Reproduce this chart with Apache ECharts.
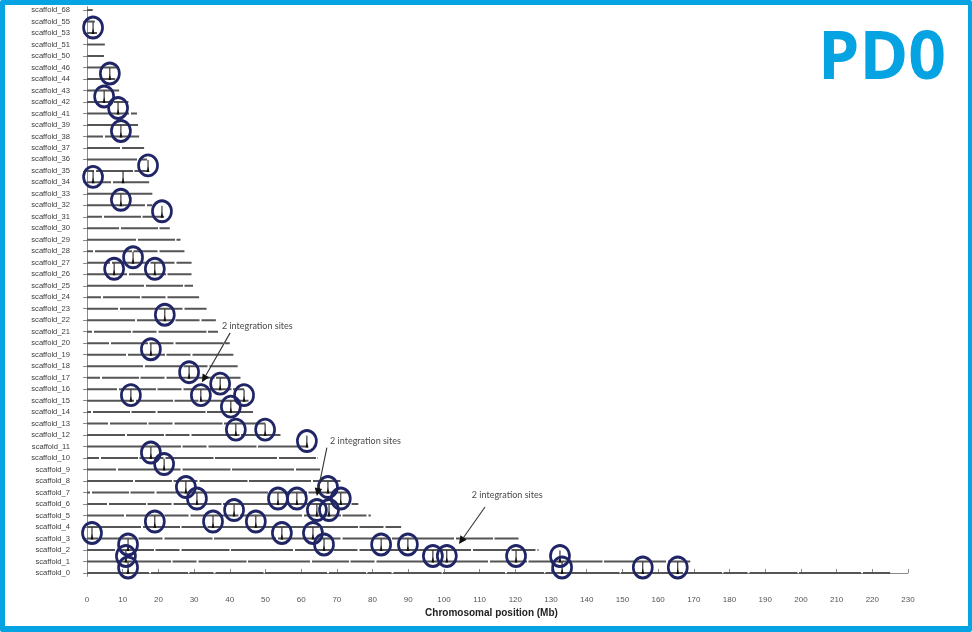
<!DOCTYPE html>
<html>
<head>
<meta charset="utf-8">
<script src="https://cdn.jsdelivr.net/npm/echarts@6/dist/echarts.min.js"></script>
<style>
  html, body { margin: 0; padding: 0; background: #ffffff; }
  #wrap { position: relative; width: 972px; height: 632px; }
  #chart { position: absolute; left: 0; top: 0; width: 972px; height: 632px; }
  #frame {
    position: absolute; left: 0; top: 0; width: 972px; height: 632px;
    box-sizing: border-box; border-style: solid; border-color: #05a3e2;
    border-width: 5px 4px 6px 5px; border-radius: 2px; pointer-events: none;
  }
</style>
</head>
<body>
<div id="wrap">
  <div id="chart"></div>
  <div id="frame"></div>
</div>
<script>
// Scaffolds listed from the bottom row upward
const scaffoldIds = [0, 1, 2, 3, 4, 5, 6, 7, 8, 9, 10, 11, 12, 13, 14, 15, 16, 17, 18, 19,
  20, 21, 22, 23, 24, 25, 26, 27, 28, 29, 30, 31, 32, 33, 34, 35, 36, 37, 38, 39,
  41, 42, 43, 44, 46, 50, 51, 53, 55, 68];
const scaffoldLabels = scaffoldIds.map(n => 'scaffold_' + n);

// Scaffold lengths (Mb)
const scaffoldLengthMb = [225, 169, 126.5, 121, 88, 79.5, 76, 73.5, 71, 65.3,
  64.7, 62, 54.2, 50, 46.5, 45.5, 44, 43, 42.2, 41,
  40, 36.7, 36.1, 33.5, 31.4, 29.7, 29.3, 29.3, 27.3, 26.2,
  23.2, 21.6, 18.3, 18.3, 17.4, 17, 16.8, 16, 14.6, 14.3,
  14, 11.6, 9, 7.9, 8.3, 5.2, 5, 2.8, 2.2, 1.6];

// Circled integration peaks: scaffold id and position (Mb)
const siteScaffold = [53, 44, 42, 41, 38, 35, 34, 32, 31, 27,
  26, 26, 22, 19, 17, 16, 15, 15, 15, 14,
  12, 12, 11, 10, 9, 7, 7, 6, 6, 6,
  6, 5, 5, 5, 4, 4, 4, 3, 3, 3,
  2, 2, 2, 2, 1, 1, 1, 1, 1, 0,
  0, 0, 0];
const siteMb = [1.7, 6.4, 4.8, 8.7, 9.5, 17.1, 1.7, 9.5, 21.0, 12.9,
  7.6, 19.0, 21.8, 17.9, 28.6, 37.3, 12.3, 31.9, 44.0, 40.3,
  41.7, 49.9, 61.6, 17.9, 21.6, 27.7, 67.5, 53.5, 58.8, 71.1,
  30.8, 64.4, 67.8, 41.2, 47.3, 19.0, 35.3, 1.4, 54.6, 63.3,
  66.4, 11.5, 82.4, 89.9, 96.9, 100.8, 120.2, 132.5, 10.9, 133.1,
  155.7, 165.5, 11.5];

// Peaks without a circle
const plainPeakScaffold = [34];
const plainPeakMb = [10.1];

// Callouts: label, label anchor (Mb, row), arrow tail and arrow head (Mb, row)
const calloutText = ['2 integration sites', '2 integration sites', '2 integration sites'];
const calloutLabelAt = [[37.8, 21.5], [68.1, 11.5], [107.8, 6.8]];
const calloutFrom = [[40.1, 20.9], [67.2, 10.9], [111.5, 5.74]];
const calloutTo = [[32.2, 16.6], [64.4, 6.7], [104.2, 2.52]];

const xMin = 0, xMax = 230, xStep = 10;

const rowOf = id => scaffoldIds.indexOf(id);

const lineData = scaffoldLengthMb.map((len, j) => [len, j]);
const siteData = siteScaffold.map((id, k) => [siteMb[k], rowOf(id)]);
const peakData = siteData.concat(plainPeakScaffold.map((id, k) => [plainPeakMb[k], rowOf(id)]));
const calloutData = calloutText.map((t, k) => [
  calloutFrom[k][0], calloutFrom[k][1], calloutTo[k][0], calloutTo[k][1],
  calloutLabelAt[k][0], calloutLabelAt[k][1]
]);

const rowValues = scaffoldIds.map((_, j) => j);

const chart = echarts.init(document.getElementById('chart'), null, { renderer: 'canvas' });

chart.setOption({
  animation: false,
  backgroundColor: '#ffffff',
  grid: { left: 87, right: 64, top: 6.6, bottom: 55.6, containLabel: false },
  xAxis: {
    type: 'value', min: xMin, max: xMax, interval: xStep,
    offset: 8,
    name: 'Chromosomal position (Mb)',
    nameLocation: 'middle', nameGap: 23,
    nameTextStyle: { fontFamily: 'Liberation Sans', fontWeight: 'bold', fontSize: 10, color: '#222', padding: [0, 12, 0, 0] },
    axisLine: { show: true, lineStyle: { color: '#8a8a8a', width: 1 } },
    axisTick: { show: true, inside: true, length: 4, lineStyle: { color: '#8a8a8a' } },
    axisLabel: { margin: 11, fontFamily: 'Liberation Sans', fontSize: 8, color: '#555' },
    splitLine: { show: false }
  },
  yAxis: {
    type: 'value', min: -0.3, max: 49.3,
    offset: 7,
    axisLine: { show: true, lineStyle: { color: '#8a8a8a', width: 1 } },
    axisTick: { show: true, inside: false, length: 4, customValues: rowValues, lineStyle: { color: '#8a8a8a' } },
    axisLabel: {
      customValues: rowValues, margin: 10,
      fontFamily: 'Liberation Sans', fontSize: 7.6, color: '#3c3c3c',
      formatter: v => scaffoldLabels[Math.round(v)] || ''
    },
    splitLine: { show: false }
  },
  graphic: [{
    type: 'text', x: 946, y: 60, z: 100,
    style: {
      text: 'PD0', align: 'right', verticalAlign: 'middle',
      fontFamily: 'Open Sans', fontWeight: 'bold', fontSize: 66, fill: '#05a3e2'
    }
  }],
  series: [
    {
      // scaffold extent lines, with small assembly gaps
      type: 'custom', name: 'scaffolds', data: lineData,
      encode: { x: 0, y: 1 },
      renderItem: (params, api) => {
        const j = api.value(1);
        const a = api.coord([0, j]);
        const b = api.coord([api.value(0), j]);
        return {
          type: 'line',
          shape: { x1: a[0], y1: a[1], x2: b[0], y2: b[1] },
          style: { stroke: '#555', lineWidth: 2, lineDash: [62, 2, 37, 1.5, 24, 2, 48, 1.5], lineDashOffset: (j * 17) % 60 }
        };
      },
      z: 1
    },
    {
      // read-depth peaks at integration sites
      type: 'custom', name: 'peaks', data: peakData,
      encode: { x: 0, y: 1 },
      renderItem: (params, api) => {
        const p = api.coord([api.value(0), api.value(1)]);
        return {
          type: 'group',
          children: [
            { type: 'polygon', shape: { points: [[p[0] - 1.4, p[1] + 1], [p[0] + 1.4, p[1] + 1], [p[0], p[1] - 5]] }, style: { fill: '#111' } },
            { type: 'line', shape: { x1: p[0], y1: p[1], x2: p[0], y2: p[1] - 11 }, style: { stroke: '#111', lineWidth: 1 } }
          ]
        };
      },
      z: 3
    },
    {
      // circles marking the integration sites
      type: 'scatter', name: 'sites', data: siteData,
      symbol: 'circle', symbolSize: [19, 21], symbolOffset: [0, -5.5],
      itemStyle: { color: 'rgba(255,255,255,0)', borderColor: '#202566', borderWidth: 2.8, opacity: 1 },
      z: 4
    },
    {
      // callout arrows with labels
      type: 'custom', name: 'callouts', data: calloutData,
      encode: { x: 0, y: 1 },
      renderItem: (params, api) => {
        const s = api.coord([api.value(0), api.value(1)]);
        const t = api.coord([api.value(2), api.value(3)]);
        const l = api.coord([api.value(4), api.value(5)]);
        const ang = Math.atan2(t[1] - s[1], t[0] - s[0]);
        const head = 8, half = 3.8;
        const bx = t[0] - head * Math.cos(ang), by = t[1] - head * Math.sin(ang);
        const nx = -Math.sin(ang), ny = Math.cos(ang);
        return {
          type: 'group',
          children: [
            { type: 'line', shape: { x1: s[0], y1: s[1], x2: bx, y2: by }, style: { stroke: '#333', lineWidth: 1.1 } },
            { type: 'polygon', shape: { points: [[t[0], t[1]], [bx + nx * half, by + ny * half], [bx - nx * half, by - ny * half]] }, style: { fill: '#111' } },
            { type: 'text', style: { text: calloutText[params.dataIndex], x: l[0], y: l[1], verticalAlign: 'middle', align: 'left', fontFamily: 'Lato', fontSize: 9, fill: '#4a4a4a' } }
          ]
        };
      },
      z: 5
    }
  ]
});
</script>
</body>
</html>
